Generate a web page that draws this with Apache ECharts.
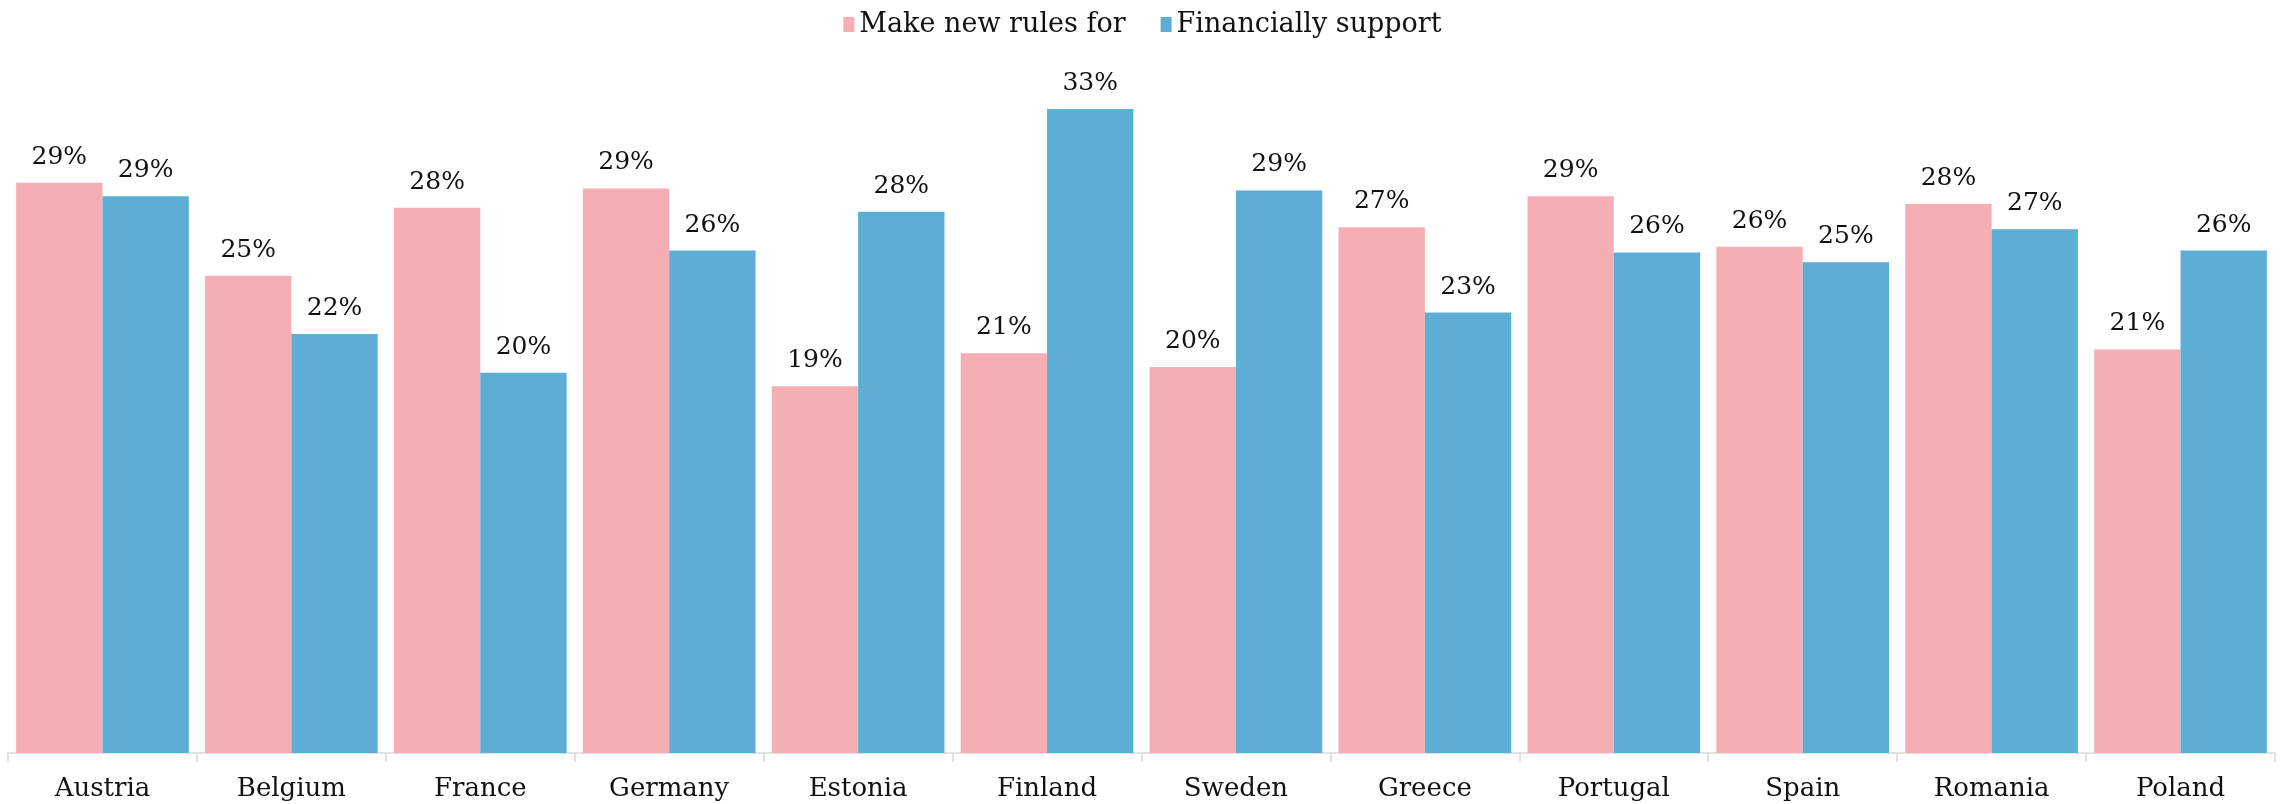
<!DOCTYPE html>
<html>
<head>
<meta charset="utf-8">
<script src="https://cdn.jsdelivr.net/npm/echarts@6/dist/echarts.min.js"></script>
<style>
    html, body { margin: 0; padding: 0; background: #fff; }
    #chart { width: 2285px; height: 804px; }
</style>
</head>
<body>
<div id="chart"></div>
<script>
    // share of respondents, per country
    var countries = ['Austria', 'Belgium', 'France', 'Germany', 'Estonia', 'Finland',
        'Sweden', 'Greece', 'Portugal', 'Spain', 'Romania', 'Poland'];
    var makeNewRules = [29.4, 24.6, 28.1, 29.1, 18.9, 20.6, 19.9, 27.1, 28.7, 26.1, 28.3, 20.8];
    var financiallySupport = [28.7, 21.6, 19.6, 25.9, 27.9, 33.2, 29.0, 22.7, 25.8, 25.3, 27.0, 25.9];

    var font = 'Georgia, "DejaVu Serif", serif';
    var pink = '#F4AEB4';
    var blue = '#5CAED5';

    var chart = echarts.init(document.getElementById('chart'));

    function labelStyle() {
        return {
            show: true,
            position: 'top',
            distance: 13,
            fontFamily: font,
            fontSize: 25,
            color: '#111',
            formatter: function (p) { return Math.round(p.value) + '%'; }
        };
    }

    chart.setOption({
        animation: false,
        legend: {
            top: 6,
            left: 'center',
            icon: 'rect',
            itemWidth: 11,
            itemHeight: 15,
            itemGap: 35,
            textStyle: { fontFamily: font, fontSize: 27, color: '#111' },
            data: ['Make new rules for', 'Financially support']
        },
        grid: { left: 8, right: 10, top: 74, bottom: 51 },
        xAxis: {
            type: 'category',
            data: countries,
            axisLine: { lineStyle: { color: '#d9d9d9', width: 1.5 } },
            axisTick: { show: true, length: 9, lineStyle: { color: '#d9d9d9', width: 1.5 } },
            axisLabel: { fontFamily: font, fontSize: 26, color: '#111', margin: 23 }
        },
        yAxis: {
            type: 'value',
            min: 0,
            max: 35,
            show: false,
            splitLine: { show: false }
        },
        series: [
            {
                name: 'Make new rules for',
                type: 'bar',
                data: makeNewRules,
                barGap: '0%',
                barCategoryGap: '8.6%',
                itemStyle: { color: pink },
                label: labelStyle()
            },
            {
                name: 'Financially support',
                type: 'bar',
                data: financiallySupport,
                barGap: '0%',
                barCategoryGap: '8.6%',
                itemStyle: { color: blue },
                label: labelStyle()
            }
        ]
    });
</script>
</body>
</html>
